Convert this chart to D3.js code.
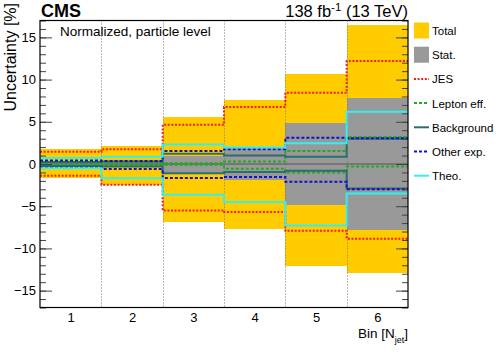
<!DOCTYPE html>
<html>
<head>
<meta charset="utf-8">
<script src="https://cdn.jsdelivr.net/npm/d3@7"></script>
<style>
  body { margin: 0; background: white; }
  svg { font-family: "Liberation Sans", Arial, sans-serif; }
</style>
</head>
<body>
<svg id="chart" width="498" height="358"></svg>
<script>
// bins of the jet multiplicity
let bins = [1, 2, 3, 4, 5, 6];

// uncertainties in %, per bin
let totalUp   = [1.8, 2.1, 5.6, 7.55, 10.65, 16.5];
let totalDown = [-1.6, -2.5, -6.9, -7.7, -12.05, -12.9];
let statUp    = [0.3, 0.4, 0.9, 1.9, 4.8, 7.8];
let statDown  = [-0.3, -0.4, -1.1, -1.9, -4.9, -7.8];
let jesUp     = [1.45, 1.75, 4.65, 6.75, 8.45, 12.2];
let jesDown   = [-1.4, -2.45, -5.5, -5.7, -7.9, -8.85];
let lepUp     = [0.1, 0.12, 0.1, 0.3, 1.55, 3.2];
let lepDown   = [-0.1, -0.12, -0.1, -0.55, -1.0, -0.3];
let bkgUp     = [0.25, 0.3, 1.2, 1.0, 0.85, 3.0];
let bkgDown   = [-0.25, -0.3, -1.1, -0.95, -0.8, -2.9];
let otherUp   = [0.4, 0.35, 1.55, 1.75, 3.1, 3.05];
let otherDown = [-0.45, -0.6, -1.65, -1.55, -2.1, -3.0];
let theoUp    = [0.7, 0.85, 2.3, 1.95, 2.45, 6.2];
let theoDown  = [-0.5, -1.7, -3.65, -4.5, -7.3, -3.5];

let yTicks = [-15, -10, -5, 0, 5, 10, 15];

let plotLeft = 40, plotRight = 408, plotTop = 20.5, plotBottom = 307.5;

let svg = d3.select("#chart");

let x = d3.scaleLinear().domain([0.5, 6.5]).range([plotLeft, plotRight]);
let y = d3.scaleLinear().domain([-17, 17]).range([plotBottom, plotTop]);

// bands
function drawBand(up, down, color) {
	svg.append("g")
		.selectAll("rect")
		.data(bins)
		.enter().append("rect")
		.attr("x", function(d) { return x(d - 0.5); })
		.attr("width", function(d) { return x(d + 0.5) - x(d - 0.5); })
		.attr("y", function(d, i) { return y(up[i]); })
		.attr("height", function(d, i) { return y(down[i]) - y(up[i]); })
		.attr("fill", color)
		.attr("shape-rendering", "crispEdges");
}
drawBand(totalUp, totalDown, "#ffcc00");
drawBand(statUp, statDown, "#999999");

// bin separators
svg.append("g")
	.selectAll("line")
	.data(bins.slice(1))
	.enter().append("line")
	.attr("x1", function(d) { return Math.round(x(d - 0.5)) + 0.5; })
	.attr("x2", function(d) { return Math.round(x(d - 0.5)) + 0.5; })
	.attr("y1", plotTop)
	.attr("y2", plotBottom)
	.attr("stroke", "#777")
	.attr("stroke-width", 1)
	.attr("stroke-dasharray", "1,2");

// zero line
svg.append("line")
	.attr("x1", plotLeft).attr("x2", plotRight)
	.attr("y1", y(0)).attr("y2", y(0))
	.attr("stroke", "#555")
	.attr("stroke-width", 1.2);

// step lines
let stepLine = d3.line()
	.x(function(p) { return p[0]; })
	.y(function(p) { return p[1]; });

function stepPoints(vals) {
	let pts = [];
	bins.forEach(function(b, i) {
		pts.push([x(b - 0.5), y(vals[i])]);
		pts.push([x(b + 0.5), y(vals[i])]);
	});
	return pts;
}

let series = [
	{ name: "JES", up: jesUp, down: jesDown, color: "#ff1a1a", dash: "2,1.6" },
	{ name: "Lepton eff.", up: lepUp, down: lepDown, color: "#22aa22", dash: "3,2" },
	{ name: "Background", up: bkgUp, down: bkgDown, color: "#2a6e6e", dash: null },
	{ name: "Other exp.", up: otherUp, down: otherDown, color: "#1111cc", dash: "3,2" },
	{ name: "Theo.", up: theoUp, down: theoDown, color: "#33f0f0", dash: null }
];

series.forEach(function(s) {
	[s.up, s.down].forEach(function(vals) {
		svg.append("path")
			.attr("d", stepLine(stepPoints(vals)))
			.attr("fill", "none")
			.attr("stroke", s.color)
			.attr("stroke-width", 2)
			.attr("stroke-dasharray", s.dash);
	});
});

// axes
let minor = d3.range(-17, 18);

svg.append("g")
	.attr("transform", "translate(" + plotLeft + ",0)")
	.call(d3.axisLeft(y).tickValues(minor).tickSizeInner(-6).tickSizeOuter(0).tickFormat(""))
	.call(function(g) { g.select(".domain").remove(); })
	.selectAll("line").attr("stroke", "#444");

svg.append("g")
	.attr("transform", "translate(" + plotLeft + ",0)")
	.call(d3.axisLeft(y).tickValues(yTicks).tickSizeInner(-12).tickSizeOuter(0).tickPadding(4))
	.call(function(g) { g.select(".domain").remove(); })
	.call(function(g) { g.selectAll("line").attr("stroke", "#444"); })
	.selectAll("text")
	.style("font-size", "13px")
	.style("font-family", "Liberation Sans, Arial, sans-serif")
	.attr("fill", "black");

svg.append("g")
	.attr("transform", "translate(" + plotRight + ",0)")
	.call(d3.axisRight(y).tickValues(minor).tickSizeInner(-6).tickSizeOuter(0).tickFormat(""))
	.call(function(g) { g.select(".domain").remove(); })
	.selectAll("line").attr("stroke", "#444");

svg.append("g")
	.attr("transform", "translate(" + plotRight + ",0)")
	.call(d3.axisRight(y).tickValues(yTicks).tickSizeInner(-12).tickSizeOuter(0).tickFormat(""))
	.call(function(g) { g.select(".domain").remove(); })
	.selectAll("line").attr("stroke", "#444");

svg.append("g")
	.attr("transform", "translate(0," + plotBottom + ")")
	.call(d3.axisBottom(x).tickValues(bins).tickSize(0).tickPadding(5).tickFormat(d3.format("d")))
	.call(function(g) { g.select(".domain").remove(); })
	.selectAll("text")
	.style("font-size", "13px")
	.style("font-family", "Liberation Sans, Arial, sans-serif")
	.attr("fill", "black");

// frame
svg.append("rect")
	.attr("x", plotLeft).attr("y", plotTop)
	.attr("width", plotRight - plotLeft).attr("height", plotBottom - plotTop)
	.attr("fill", "none")
	.attr("stroke", "black")
	.attr("stroke-width", 1.2);

// labels
svg.append("text")
	.attr("x", 41).attr("y", 17)
	.style("font-size", "18px")
	.style("font-weight", "bold")
	.text("CMS");

let lumi = svg.append("text")
	.attr("x", plotRight).attr("y", 17)
	.attr("text-anchor", "end")
	.style("font-size", "16.5px");
lumi.append("tspan").text("138 fb");
lumi.append("tspan").attr("dy", -6).style("font-size", "11.5px").text("-1");
lumi.append("tspan").attr("dy", 6).text(" (13 TeV)");

svg.append("text")
	.attr("x", 60).attr("y", 36)
	.style("font-size", "13.5px")
	.text("Normalized, particle level");

svg.append("text")
	.attr("transform", "translate(16,3) rotate(-90)")
	.attr("text-anchor", "end")
	.style("font-size", "16px")
	.text("Uncertainty [%]");

let xlab = svg.append("text")
	.attr("x", plotRight).attr("y", 337.5)
	.attr("text-anchor", "end")
	.style("font-size", "13.5px");
xlab.append("tspan").text("Bin [N");
xlab.append("tspan").attr("dy", 5).style("font-size", "9px").text("jet");
xlab.append("tspan").attr("dy", -5).text("]");

// legend
let legend = svg.append("g").attr("transform", "translate(413,0)");
let legendY = function(i) { return 30.5 + i * 24.2; };

legend.append("rect").attr("x", 1).attr("y", legendY(0) - 8).attr("width", 15).attr("height", 16).attr("fill", "#ffcc00");
legend.append("rect").attr("x", 1).attr("y", legendY(1) - 8).attr("width", 15).attr("height", 16).attr("fill", "#999999");

series.forEach(function(s, i) {
	legend.append("line")
		.attr("x1", 1).attr("x2", 16)
		.attr("y1", legendY(i + 2)).attr("y2", legendY(i + 2))
		.attr("stroke", s.color)
		.attr("stroke-width", 2)
		.attr("stroke-dasharray", s.dash);
});

legend.selectAll("text.lab")
	.data(["Total", "Stat."].concat(series.map(function(s) { return s.name; })))
	.enter().append("text")
	.attr("class", "lab")
	.attr("x", 19)
	.attr("y", function(d, i) { return legendY(i) + 4.5; })
	.style("font-size", "11.5px")
	.text(function(d) { return d; });
</script>
</body>
</html>
